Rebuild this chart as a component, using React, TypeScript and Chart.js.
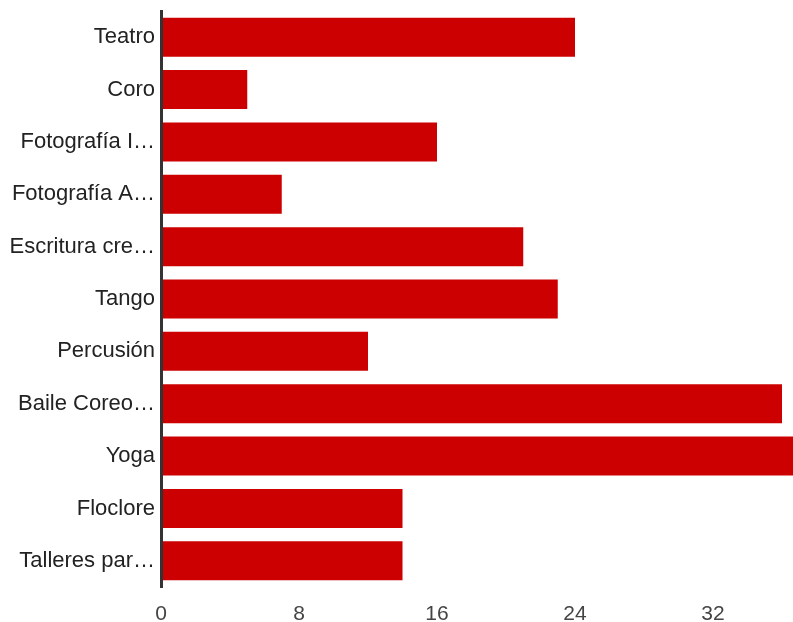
import React, { useEffect, useRef } from "react";
import { Chart, registerables } from "chart.js";

Chart.register(...registerables);

const categories = [
  "Teatro",
  "Coro",
  "Fotografía I…",
  "Fotografía A…",
  "Escritura cre…",
  "Tango",
  "Percusión",
  "Baile Coreo…",
  "Yoga",
  "Floclore",
  "Talleres par…",
];
const values = [24, 5, 16, 7, 21, 23, 12, 36, 37, 14, 14];
const tickValues = [0, 8, 16, 24, 32];

export default function App() {
  const ref = useRef<HTMLCanvasElement | null>(null);

  useEffect(() => {
    document.body.style.margin = "0";
    document.body.style.overflow = "hidden";
    const canvas = ref.current;
    if (!canvas) return;
    const chart = new Chart(canvas, {
      type: "bar",
      data: {
        labels: categories,
        datasets: [
          {
            data: values,
            backgroundColor: "#cc0000",
            borderWidth: 0,
            categoryPercentage: 1,
            barPercentage: 0.745,
          },
        ],
      },
      options: {
        indexAxis: "y",
        animation: false,
        responsive: false,
        devicePixelRatio: 1,
        layout: { padding: { top: 11, left: 0, right: 0, bottom: 0 } },
        plugins: {
          legend: { display: false },
          tooltip: { enabled: false },
        },
        scales: {
          x: {
            type: "linear",
            min: 0,
            max: 632 / 17.25,
            grid: { display: false, drawTicks: false },
            border: { display: false },
            afterFit: (scale: any) => {
              scale.height = 35;
              scale.paddingLeft = 0;
              scale.paddingRight = 0;
            },
            afterBuildTicks: (scale: any) => {
              scale.ticks = tickValues.map((v) => ({ value: v }));
            },
            ticks: {
              includeBounds: false,
              padding: 15,
              color: "#444444",
              font: { family: "'Liberation Sans', Arial, sans-serif", size: 21 },
              maxRotation: 0,
            },
          },
          y: {
            grid: { display: false, drawTicks: false },
            border: { display: true, color: "#333333", width: 3, z: 1 },
            afterFit: (scale: any) => {
              scale.width = 161;
              scale.paddingTop = 0;
              scale.paddingBottom = 0;
            },
            ticks: {
              padding: 6,
              color: "#222222",
              font: { family: "'Liberation Sans', Arial, sans-serif", size: 22 },
              autoSkip: false,
            },
          },
        },
      },
    });
    return () => chart.destroy();
  }, []);

  return (
    <div style={{ width: 793, height: 622, overflow: "hidden" }}>
      <canvas ref={ref} width={793} height={622} style={{ display: "block", width: 793, height: 622 }} />
    </div>
  );
}
